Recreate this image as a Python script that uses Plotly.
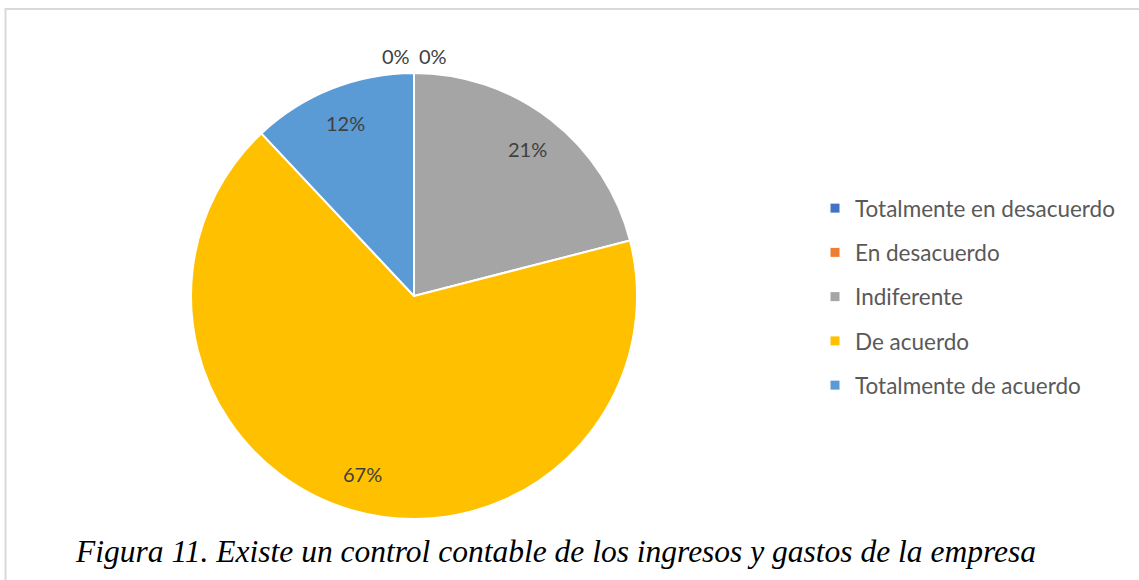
import math
import plotly.graph_objects as go

categories = ["Totalmente en desacuerdo", "En desacuerdo", "Indiferente", "De acuerdo", "Totalmente de acuerdo"]
shares = [0, 0, 21, 67, 12]
colors = ["#4472C4", "#ED7D31", "#A5A5A5", "#FFC000", "#5B9BD5"]
caption = "Figura 11. Existe un control contable de los ingresos y gastos de la empresa"

W, H = 1139, 580
cx, cy, R = 414, 296, 221
Rdom = 223

fig = go.Figure()
fig.add_trace(go.Pie(
    labels=categories, values=shares, sort=False, direction="clockwise", rotation=0,
    marker=dict(colors=colors, line=dict(color="white", width=2)),
    textinfo="none", hoverinfo="label+percent", showlegend=False,
    domain=dict(x=[(cx - Rdom) / W, (cx + Rdom) / W], y=[(H - cy - Rdom) / H, (H - cy + Rdom) / H]),
))

# legend entries (one group each to get Excel-like spacing)
for c, col in zip(categories, colors):
    fig.add_trace(go.Scatter(x=[None], y=[None], mode="markers", name=c, legendgroup=c,
                             marker=dict(symbol="square", size=9, color=col)))

# data labels from values
total = sum(shares)
annotations = []
cum = 0
zero_idx = 0
for v in shares:
    frac = v / total
    mid = (cum + frac / 2) * 2 * math.pi
    if v == 0:
        dx = -18 if zero_idx == 0 else 19
        zero_idx += 1
        sx, sy = cx + dx, cy - R - 19
    else:
        rl = 0.84 * R
        sx, sy = cx + rl * math.sin(mid), cy - rl * math.cos(mid)
    annotations.append(dict(x=sx / W, y=(H - sy) / H, xref="paper", yref="paper",
                            xanchor="center", yanchor="middle",
                            text=f"{v:.0f}%", showarrow=False,
                            font=dict(family="Lato", size=20, color="#404040")))
    cum += frac

annotations.append(dict(x=555 / W, y=(H - 551) / H, xref="paper", yref="paper", text=caption,
                        xanchor="center", yanchor="middle", showarrow=False,
                        font=dict(family="Liberation Serif", size=31.5, color="black", style="italic")))

fig.update_layout(
    width=W, height=H, margin=dict(l=0, r=0, t=0, b=0),
    paper_bgcolor="white", plot_bgcolor="white",
    xaxis=dict(visible=False), yaxis=dict(visible=False),
    legend=dict(x=815 / W, y=(H - 187) / H, xanchor="left", yanchor="top",
                font=dict(family="Lato", size=22.5, color="#595959"),
                tracegroupgap=12, traceorder="grouped", bgcolor="rgba(0,0,0,0)"),
    annotations=annotations,
    shapes=[dict(type="rect", xref="paper", yref="paper",
                 x0=5.5 / W, x1=1.05, y0=-0.05, y1=(H - 9) / H,
                 line=dict(color="#D9D9D9", width=2), layer="below")],
)

fig.write_html("out.html", config={"displayModeBar": False},
               post_script="document.body.style.margin='0';")
